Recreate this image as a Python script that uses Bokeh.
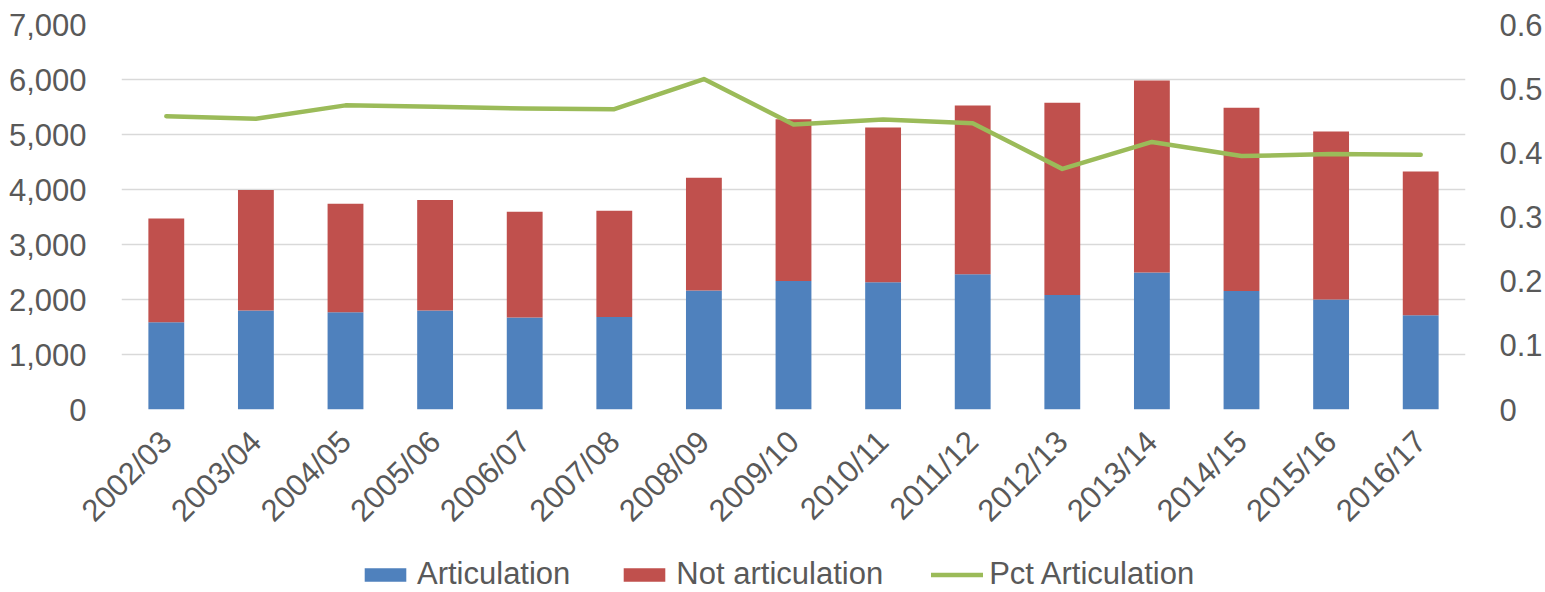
import math
from bokeh.plotting import figure
from bokeh.layouts import column
from bokeh.models import (ColumnDataSource, FactorRange, Range1d, LinearAxis, FixedTicker,
                          NumeralTickFormatter, Legend, LegendItem)
from bokeh.core.properties import value
from bokeh.embed import file_html
from bokeh.resources import INLINE

# ---- data ----
years = ["2002/03", "2003/04", "2004/05", "2005/06", "2006/07", "2007/08", "2008/09",
         "2009/10", "2010/11", "2011/12", "2012/13", "2013/14", "2014/15", "2015/16", "2016/17"]
articulation = [1586, 1798, 1767, 1798, 1671, 1682, 2162, 2336, 2312, 2458, 2082, 2489, 2154, 1998, 1713]
not_articulation = [1889, 2191, 1975, 2009, 1926, 1933, 2052, 2943, 2816, 3070, 3495, 3493, 3332, 3057, 2616]
pct_articulation = [0.457, 0.453, 0.474, 0.472, 0.469, 0.468, 0.515, 0.444, 0.452, 0.446,
                    0.375, 0.417, 0.395, 0.398, 0.397]
left_ticks = [0, 1000, 2000, 3000, 4000, 5000, 6000, 7000]
right_ticks = [0, 0.1, 0.2, 0.3, 0.4, 0.5, 0.6]
series_names = ["Articulation", "Not articulation", "Pct Articulation"]

BLUE = "#4F81BD"
RED = "#C0504D"
GREEN = "#9BBB59"
TXT = "#595959"
GRID = "#D9D9D9"
FONT = "Liberation Sans"
FS = "31px"

source = ColumnDataSource(dict(year=years, art=articulation, notart=not_articulation,
                               pct=pct_articulation))


def add_series(fig):
    bars = fig.vbar_stack(["art", "notart"], x="year", width=0.4, color=[BLUE, RED],
                          line_color=None, source=source)
    ln = fig.line(x="year", y="pct", y_range_name="pct", source=source, line_color=GREEN,
                  line_width=4.5, line_cap="round", line_join="round")
    return bars, ln


p = figure(x_range=FactorRange(*years), y_range=Range1d(0, 7000),
           width=1545, height=552, output_backend="svg", toolbar_location=None,
           min_border_left=121, min_border_right=74, min_border_top=24, min_border_bottom=143)
p.extra_y_ranges = {"pct": Range1d(0, 0.6)}
p.x_range.range_padding = 0
p.outline_line_color = None
p.background_fill_color = "white"
add_series(p)

# left axis
ya = p.yaxis[0]
ya.ticker = FixedTicker(ticks=left_ticks)
ya.formatter = NumeralTickFormatter(format="0,0")

# right axis
ra = LinearAxis(y_range_name="pct", ticker=FixedTicker(ticks=right_ticks),
                formatter=NumeralTickFormatter(format="0.[0]"))
p.add_layout(ra, "right")

for ax in [ya, ra, p.xaxis[0]]:
    ax.axis_line_color = None
    ax.major_tick_line_color = None
    ax.minor_tick_line_color = None
    ax.major_label_text_font = FONT
    ax.major_label_text_font_size = FS
    ax.major_label_text_color = TXT
ya.major_label_standoff = 29
ra.major_label_standoff = 28

xa = p.xaxis[0]
xa.major_label_orientation = math.pi / 4
xa.major_label_standoff = 21
xa.group_text_font_size = "0px"

p.xgrid.grid_line_color = None
p.ygrid.ticker = FixedTicker(ticks=left_ticks)
p.ygrid.grid_line_color = GRID
p.ygrid.grid_line_width = 1.5

# ---- legend strip below the chart (series not mapped here, only the legend shows) ----
lg = figure(width=1545, height=40, output_backend="svg", toolbar_location=None,
            x_range=Range1d(0, 1), y_range=Range1d(0, 1),
            x_axis_location=None, y_axis_location=None, min_border=0)
lg.extra_y_ranges = {"pct": Range1d(0, 1)}
lg.outline_line_color = None
lg.grid.visible = False
lg_bars, lg_line = add_series(lg)

legend = Legend(items=[LegendItem(label=value(series_names[0]), renderers=[lg_bars[0]]),
                       LegendItem(label=value(series_names[1]), renderers=[lg_bars[1]]),
                       LegendItem(label=value(series_names[2]), renderers=[lg_line])],
                orientation="horizontal", location=(238, 0),
                label_text_font=FONT, label_text_font_size=FS, label_text_color=TXT,
                glyph_width=52, glyph_height=17, label_standoff=6, spacing=48,
                padding=0, margin=0, border_line_color=None, background_fill_alpha=0)
lg.add_layout(legend, "center")

layout = column(p, lg, spacing=0)
open("out.html", "w").write(file_html(layout, INLINE))
